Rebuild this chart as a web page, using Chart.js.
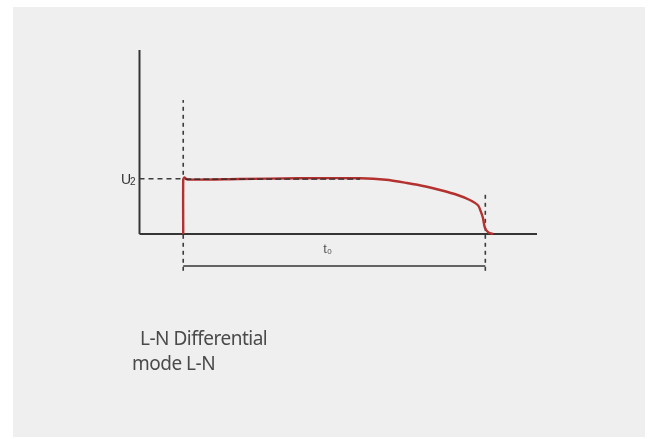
<!DOCTYPE html>
<html>
<head>
<meta charset="utf-8">
<script src="https://cdn.jsdelivr.net/npm/chart.js@4.4.0/dist/chart.umd.min.js"></script>
<style>
  html, body { margin: 0; padding: 0; background: #ffffff; }
  #panel { position: absolute; left: 13px; top: 7px; width: 632px; height: 430px; background: #efefef; }
  #wrap { position: absolute; left: 0; top: 0; width: 648px; height: 439px; }
  .caption { position: absolute; font-family: "Noto Sans", sans-serif; font-size: 19px; color: #4a4a4a; letter-spacing: -0.5px; white-space: nowrap; }
</style>
</head>
<body>
<div id="panel"></div>
<div id="wrap"><canvas id="surge" width="648" height="439"></canvas></div>
<div class="caption" style="left:140px; top:325px;">L-N Differential</div>
<div class="caption" style="left:132px; top:350px;">mode L-N</div>
<script>
// waveform data (x: time units, y: voltage units)
const tStart = 11;
const tEnd = 87;
const u2 = 3;
const pulseX = [11, 11, 11.3, 12, 25, 40, 55.5, 62, 67.3, 72, 75.6, 80, 83.1, 85.2, 85.9, 86.4, 86.9, 87.8, 89];
const pulseY = [0, 2.93, 3.07, 2.96, 2.99, 3.03, 3.03, 2.95, 2.77, 2.58, 2.39, 2.12, 1.85, 1.55, 1.2, 0.87, 0.33, 0.08, 0];
const levelLabel = ['U', '2'];
const timeLabel = ['t', '0'];

const pts = (xs, ys) => xs.map((x, i) => ({ x: x, y: ys[i] }));

const ink = '#353535';
const dash = '#3c3c3c';

const labels = {
    id: 'labels',
    afterDatasetsDraw(chart) {
        const { ctx, scales: { x, y } } = chart;
        ctx.save();
        ctx.fillStyle = '#333';
        ctx.textBaseline = 'alphabetic';
        // U2 next to the y axis
        let py = y.getPixelForValue(u2) + 5;
        ctx.font = '14px "Liberation Sans", sans-serif';
        ctx.textAlign = 'left';
        ctx.fillText(levelLabel[0], 121, py);
        ctx.font = '10px "Liberation Sans", sans-serif';
        ctx.fillText(levelLabel[1], 130, py + 1);
        // t0 below the axis
        const px = x.getPixelForValue((tStart + tEnd) / 2) - 11;
        ctx.font = '13px "Liberation Sans", sans-serif';
        ctx.fillStyle = '#555';
        ctx.fillText(timeLabel[0], px, 253);
        ctx.font = '8px "Liberation Sans", sans-serif';
        ctx.fillText(timeLabel[1], px + 4, 254);
        ctx.restore();
    }
};

const line = (data, color, width, dashArr) => ({
    data: data,
    borderColor: color,
    borderWidth: width,
    borderDash: dashArr || [],
    pointRadius: 0,
    showLine: true,
    fill: false,
    tension: 0,
    clip: false
});

// Chart.js paints the first dataset on top
new Chart(document.getElementById('surge'), {
    type: 'scatter',
    data: {
        datasets: [
            // dashed trace over the plateau
            line(pts([tStart + 0.5, 55.5], [u2 - 0.02, u2 - 0.02]), '#2a2a2a', 1.4, [6, 3]),
            // waveform
            Object.assign(line(pts(pulseX, pulseY), '#b3312f', 2.4), { tension: 0.25 }),
            // guides
            line(pts([tStart, tStart], [-2, 7.28]), dash, 1.6, [4, 4]),
            line(pts([tEnd, tEnd], [-2, 2.23]), dash, 1.6, [4, 4]),
            line(pts([0, tStart], [u2, u2]), dash, 1.5, [5, 4]),
            line(pts([tStart, tEnd], [-1.74, -1.74]), ink, 1.5),
            // axes
            line(pts([0, 0], [0, 10]), ink, 2),
            line(pts([0, 100], [0, 0]), ink, 2)
        ]
    },
    options: {
        responsive: false,
        animation: false,
        layout: { padding: { left: 139.5, right: 111, top: 50, bottom: 168.2 } },
        scales: {
            x: { type: 'linear', display: false, min: 0, max: 100 },
            y: { type: 'linear', display: false, min: -2, max: 10 }
        },
        plugins: { legend: { display: false }, tooltip: { enabled: false } }
    },
    plugins: [labels]
});
</script>
</body>
</html>
